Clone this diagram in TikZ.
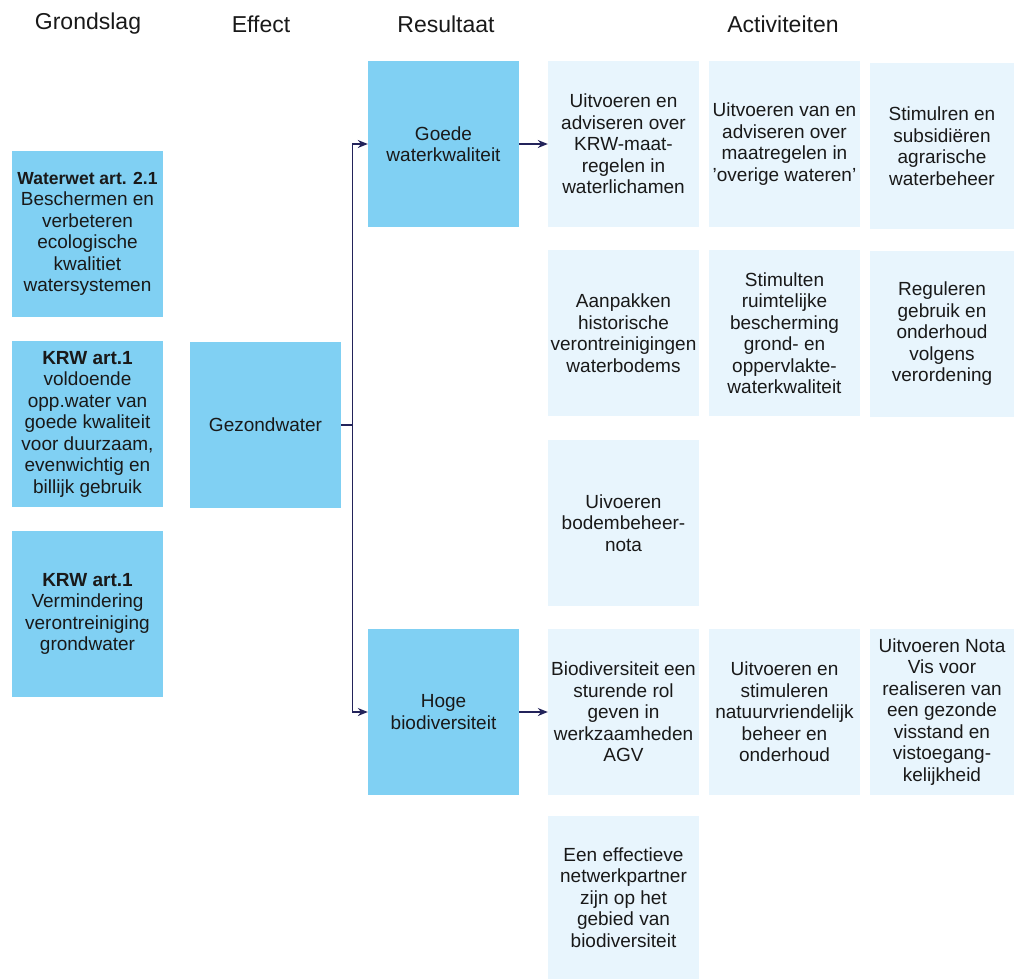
\documentclass[tikz,border=0pt]{standalone}
\usepackage{fontspec}
\setmainfont{Liberation Sans}
\usetikzlibrary{arrows.meta}

\definecolor{darkbox}{RGB}{128,208,243}
\definecolor{lightbox}{RGB}{232,245,253}
\definecolor{navy}{RGB}{35,35,90}

\tikzstyle{box}=[rectangle,minimum width=151pt,minimum height=166pt,inner sep=1pt,align=center,text=black!90,font=\fontsize{19}{21.5}\selectfont]
\tikzstyle{main box}=[box,fill=darkbox]
\tikzstyle{activity}=[box,fill=lightbox]
\tikzstyle{header}=[font=\fontsize{23}{27}\selectfont,text=black!90]
\tikzstyle{link}=[draw=navy,line width=1.3pt,-{Stealth[length=10pt,width=8pt]}]

\begin{document}
\begin{tikzpicture}[x=1pt,y=-1pt]
    \useasboundingbox (0,0) rectangle (1014,979);

    % kolomkoppen
    \foreach \pos/\name/\txt in {{(88,24)/hgrond/Grondslag}, {(261,24)/heffect/Effect},
                                 {(446,24)/hresult/Resultaat}, {(783,24)/hact/Activiteiten}}
        \node[header] (\name) at \pos {\txt};

    % grondslag
    \node[main box] (g1) at (87.5,234) {{\fontsize{17.5}{21.5}\selectfont\bfseries Waterwet art. 2.1}\\Beschermen en\\verbeteren\\ecologische\\kwalitiet\\watersystemen};
    \node[main box] (g2) at (87.5,424) {\textbf{KRW art.1}\\voldoende\\opp.water van\\goede kwaliteit\\voor duurzaam,\\evenwichtig en\\billijk gebruik};
    \node[main box] (g3) at (87.5,614) {\textbf{KRW art.1}\\Vermindering\\verontreiniging\\grondwater};

    % effect en resultaat
    \node[main box] (eff) at (265.5,425) {Gezondwater};
    \node[main box] (res1) at (443.5,144) {Goede\\waterkwaliteit};
    \node[main box] (res2) at (443.5,712) {Hoge\\biodiversiteit};

    % activiteiten
    \node[activity] (a11) at (623.5,144) {Uitvoeren en\\adviseren over\\KRW-maat-\\regelen in\\waterlichamen};
    \node[activity] (a12) at (784.5,144) {Uitvoeren van en\\adviseren over\\maatregelen in\\'overige wateren'};
    \node[activity,minimum width=144pt] (a13) at (942,146) {Stimulren en\\subsidiëren\\agrarische\\waterbeheer};
    \node[activity] (a21) at (623.5,333) {Aanpakken\\historische\\verontreinigingen\\waterbodems};
    \node[activity] (a22) at (784.5,333) {Stimulten\\ruimtelijke\\bescherming\\grond- en\\oppervlakte-\\waterkwaliteit};
    \node[activity,minimum width=144pt] (a23) at (942,334) {Reguleren\\gebruik en\\onderhoud\\volgens\\verordening};
    \node[activity] (a31) at (623.5,523) {Uivoeren\\bodembeheer-\\nota};
    \node[activity] (a41) at (623.5,712) {Biodiversiteit een\\sturende rol\\geven in\\werkzaamheden\\AGV};
    \node[activity] (a42) at (784.5,712) {Uitvoeren en\\stimuleren\\natuurvriendelijk\\beheer en\\onderhoud};
    \node[activity,minimum width=144pt] (a43) at (942,712) {Uitvoeren Nota\\Vis voor\\realiseren van\\een gezonde\\visstand en\\vistoegang-\\kelijkheid};
    \node[activity,minimum height=163pt] (a51) at (623.5,897.5) {Een effectieve\\netwerkpartner\\zijn op het\\gebied van\\biodiversiteit};

    % verbindingen
    \foreach \dest in {res1,res2}
        \path[link] (eff.east) -- ++(11,0) |- (\dest.west);
    \foreach \source/\dest in {res1/a11, res2/a41}
        \path[link] (\source) -- (\dest);
\end{tikzpicture}
\end{document}
